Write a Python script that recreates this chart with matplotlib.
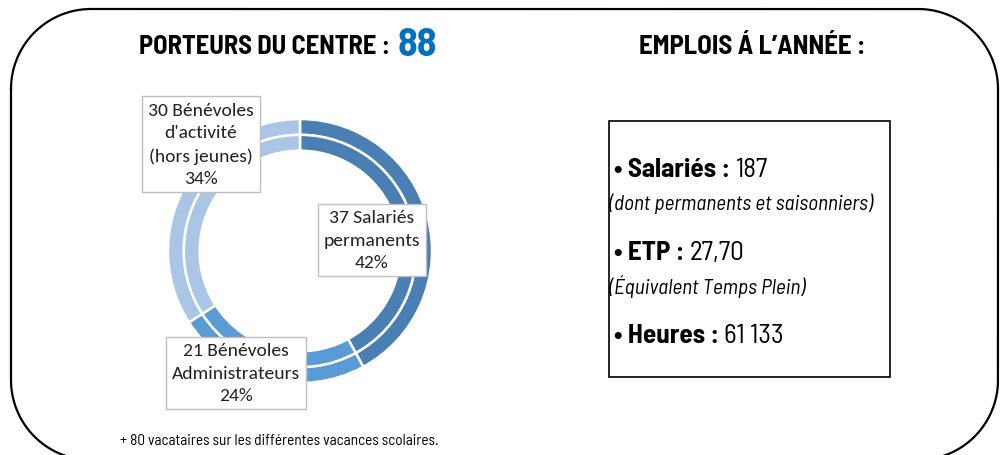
import numpy as np
import matplotlib.pyplot as plt
from matplotlib.patches import Rectangle

plt.rcParams['font.family'] = ['Carlito', 'DejaVu Sans']

# donut data (clockwise from top)
categories = ['37 Salariés\npermanents', '21 Bénévoles\nAdministrateurs',
              "30 Bénévoles\nd'activité\n(hors jeunes)"]
values = [37, 21, 30]
colors = ['#4a7fb3', '#5b9bd5', '#abc5e6']
total_porteurs = 88

# right hand panel
emplois = [('Salariés : ', '187', '(dont permanents et saisonniers)'),
           ('ETP : ', '27,70', '(Équivalent Temps Plein)'),
           ('Heures : ', '61 133', None)]
note = '+ 80 vacataires sur les différentes vacances scolaires.'

W, H = 1003, 456
fig = plt.figure(figsize=(W / 100, H / 100), dpi=100)

# donut, two rings like the excel original
R = 132
cx, cy = 300, 252
pax = fig.add_axes([(cx - R) / W, (H - cy - R) / H, 2 * R / W, 2 * R / H])
for r in (1.0, 0.88):
    pax.pie(values, radius=r, colors=colors, startangle=90, counterclock=False,
            wedgeprops=dict(width=0.12, edgecolor='white', linewidth=1.8))
pax.set_xlim(-1, 1)
pax.set_ylim(-1, 1)
pax.set_aspect('equal')
pax.axis('off')

ax = fig.add_axes([0, 0, 1, 1])
ax.set_xlim(0, W)
ax.set_ylim(H, 0)
ax.axis('off')
ax.patch.set_alpha(0)

# rounded outer frame (bottom runs past the picture)
def corner(xc, yc, r, a0, a1):
    t = np.radians(np.linspace(a0, a1, 40))
    return xc + r * np.cos(t), yc + r * np.sin(t)

rad = 80
x0, x1, y0, y1 = 11, 998, 10, 461
xs, ys = [], []
for xc, yc, a0, a1 in [(x0 + rad, y0 + rad, 180, 270), (x1 - rad, y0 + rad, 270, 360),
                       (x1 - rad, y1 - rad, 0, 90), (x0 + rad, y1 - rad, 90, 180)]:
    px, py = corner(xc, yc, rad, a0, a1)
    xs.extend(px)
    ys.extend(py)
xs.append(xs[0])
ys.append(ys[0])
ax.plot(xs, ys, color='black', linewidth=1.6, clip_on=False)

cond = ['Barlow Semi Condensed', 'DejaVu Sans']
ax.text(395, 47, 'PORTEURS DU CENTRE : ', family=cond, weight='bold',
        fontsize=19, ha='right', va='center')
ax.text(398, 45, str(total_porteurs), family=cond, weight='bold',
        fontsize=29, color='#0070c0', ha='left', va='center')
ax.text(752, 47, 'EMPLOIS Á L’ANNÉE :', family=cond, weight='bold',
        fontsize=19.3, ha='center', va='center')

# label boxes
label_pos = [(372, 241), (236, 374), (201, 145)]
for cat, v, (lx, ly) in zip(categories, values, label_pos):
    pct = round(100 * v / sum(values))
    ax.text(lx, ly, f'{cat}\n{pct}%', ha='center', va='center', fontsize=14,
            linespacing=1.5, color='#222222',
            bbox=dict(boxstyle='square,pad=0.3', facecolor='white',
                      edgecolor='#bfbfbf', linewidth=1))

# right box
ax.add_patch(Rectangle((609, 122), 281, 256, fill=False, edgecolor='black',
                       linewidth=1.2))
yy = 170
for label, val, sub in emplois:
    t = ax.text(614, yy, '• ' + label, family=cond, weight='bold',
                fontsize=19.5, va='center')
    fig.canvas.draw()
    bb = t.get_window_extent()
    ax.text(614 + bb.width, yy, val, family=cond, fontsize=19.5, va='center')
    if sub:
        ax.text(609, yy + 34, sub, family=cond, style='italic', fontsize=15.3,
                va='center')
    yy += 83

ax.text(120, 441, note, family=cond, fontsize=11, va='center')

fig.savefig('out.png', dpi=100)
